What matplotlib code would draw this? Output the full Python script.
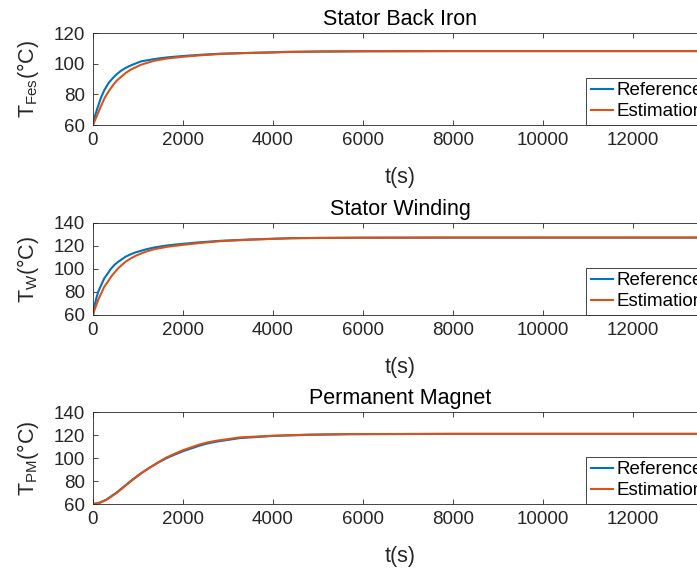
import matplotlib
matplotlib.use("Agg")
import matplotlib.pyplot as plt

plt.rcParams['font.family'] = ['Liberation Sans', 'DejaVu Sans']
plt.rcParams['mathtext.fontset'] = 'custom'
plt.rcParams['mathtext.rm'] = 'Liberation Sans'

# time samples (s)
t_fes = [0, 50, 110, 180, 257, 350, 441, 530, 625, 730, 845, 1066, 1360, 1650, 2000, 2400, 2830,
         3400, 4000, 4300, 5000, 6000, 8000, 10000, 12000, 13650]
fes_ref = [60, 66.5, 72.0, 78.0, 83.0, 87.5, 90.6, 93.2, 95.4, 97.3, 98.9, 101.5, 103.0, 104.1, 105.0,
           105.8, 106.5, 107.0, 107.4, 107.7, 107.9, 108.1, 108.2, 108.2, 108.2, 108.2]
fes_est = [60, 63.5, 67.6, 72.5, 77.5, 82.0, 85.8, 89.0, 91.4, 94.0, 96.2, 99.3, 101.9, 103.4, 104.5,
           105.5, 106.3, 106.9, 107.3, 107.6, 107.9, 108.1, 108.2, 108.2, 108.2, 108.2]

t_w = [0, 30, 74, 120, 184, 250, 331, 400, 478, 550, 625, 730, 845, 950, 1066, 1200, 1360, 1650,
       2000, 2400, 2830, 3400, 4000, 4400, 5000, 6000, 8000, 10000, 12000, 13650]
w_ref = [60, 67.0, 74.5, 80.5, 86.2, 91.8, 96.3, 100.2, 103.6, 106.0, 108.0, 110.8, 112.9, 114.5, 115.8,
         117.3, 118.7, 120.5, 121.9, 123.3, 124.5, 125.5, 126.3, 126.8, 127.0, 127.2, 127.3, 127.3, 127.3, 127.3]
w_est = [60, 64.0, 68.7, 73.5, 78.9, 84.5, 89.0, 93.2, 96.9, 100.2, 103.0, 106.5, 109.3, 111.5, 113.4,
         115.4, 117.2, 119.3, 121.0, 122.7, 124.2, 125.3, 126.2, 126.7, 127.0, 127.2, 127.3, 127.3, 127.3, 127.3]

t_pm = [0, 150, 296, 519, 700, 889, 1070, 1259, 1450, 1630, 1820, 2000, 2370, 2550, 2741, 3259, 4000,
        4800, 5700, 8000, 10000, 12000, 13650]
pm_ref = [60, 61.2, 63.8, 69.8, 75.6, 81.6, 86.8, 91.6, 96.0, 99.8, 103.0, 105.9, 110.8, 112.7, 114.2,
          117.3, 119.2, 120.2, 120.7, 121.0, 121.0, 121.0, 121.0]
pm_est = [60, 61.0, 63.6, 69.4, 75.2, 81.2, 86.6, 91.6, 96.3, 100.4, 103.8, 106.8, 111.8, 113.6, 115.0,
          117.9, 119.4, 120.3, 120.8, 121.0, 121.0, 121.0, 121.0]

titles = ["Stator Back Iron", "Stator Winding", "Permanent Magnet"]
ylabels = [r"T$_{\mathrm{Fes}}$(°C)", r"T$_{\mathrm{W}}$(°C)", r"T$_{\mathrm{PM}}$(°C)"]
ylims = [(60, 120), (60, 140), (60, 140)]
xticks = [0, 2000, 4000, 6000, 8000, 10000, 12000]

data = [(t_fes, fes_ref, fes_est), (t_w, w_ref, w_est), (t_pm, pm_ref, pm_est)]
bottoms = [0.7803, 0.4464, 0.1142]

fig = plt.figure(figsize=(6.97, 5.69), dpi=100)
dark = '#262626'

for i in range(3):
    ax = fig.add_axes([0.1334, bottoms[i], 0.881, 0.1617])
    t, ref, est = data[i]
    ax.plot(t, ref, color='#0072BD', lw=1.5, label='Reference')
    ax.plot(t, est, color='#D95319', lw=1.5, label='Estimation')
    ax.set_xlim(0, 13650)
    ax.set_ylim(*ylims[i])
    ax.set_xticks(xticks)
    ax.set_yticks(range(ylims[i][0], ylims[i][1] + 1, 20))
    ax.tick_params(direction='in', length=3.5, width=0.6, colors=dark,
                   labelsize=13.5, top=True, right=True)
    ax.tick_params(axis='y', pad=6)
    ax.tick_params(axis='x', pad=5)
    for s in ax.spines.values():
        s.set_color(dark)
        s.set_linewidth(0.6)
    ax.set_title(titles[i], fontsize=15.5, pad=6)
    ax.set_xlabel("t(s)", fontsize=15.5, color=dark, labelpad=13)
    ax.set_ylabel(ylabels[i], fontsize=15.5, color=dark, labelpad=9)
    leg = ax.legend(loc='lower left', bbox_to_anchor=(0.803, 0.0), borderaxespad=0,
                    fontsize=13.5, handlelength=1.2, handletextpad=0.15,
                    labelspacing=0.2, borderpad=0.25, fancybox=False, framealpha=1)
    leg.get_frame().set_edgecolor(dark)
    leg.get_frame().set_linewidth(0.6)

fig.savefig("out.png", dpi=100)
